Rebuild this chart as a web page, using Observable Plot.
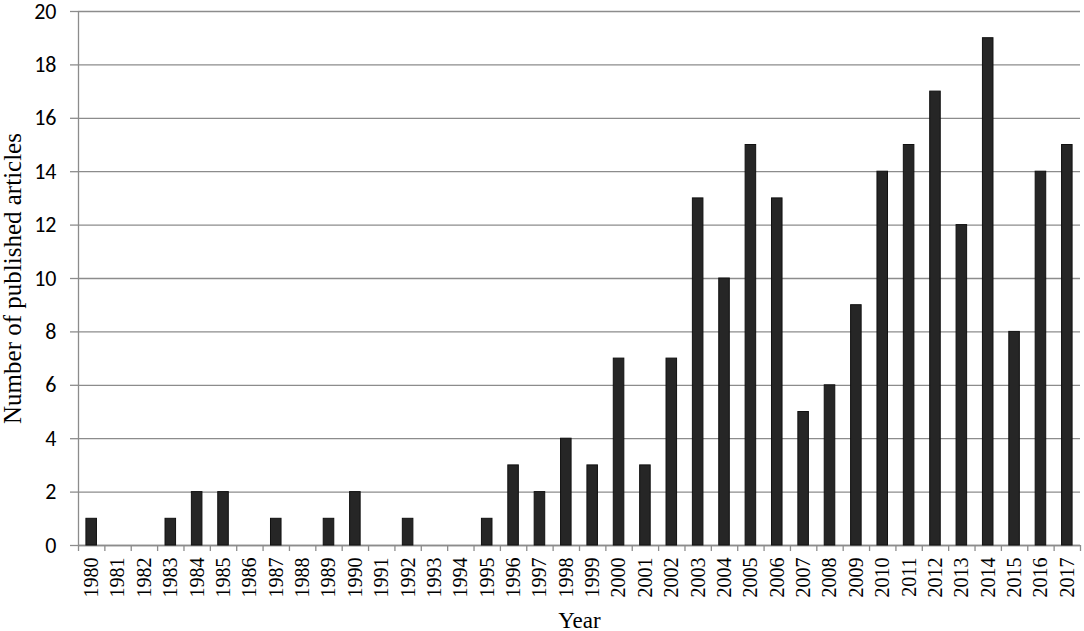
<!DOCTYPE html>
<html>
<head>
<meta charset="utf-8">
<script src="https://cdn.jsdelivr.net/npm/d3@7"></script>
<script src="https://cdn.jsdelivr.net/npm/@observablehq/plot@0.6"></script>
<style>
  html, body { margin: 0; padding: 0; background: #fff; }
  #chart svg { display: block; }
</style>
</head>
<body>
<div id="chart"></div>
<script>
const years = [1980,1981,1982,1983,1984,1985,1986,1987,1988,1989,1990,1991,1992,1993,1994,1995,1996,1997,1998,1999,2000,2001,2002,2003,2004,2005,2006,2007,2008,2009,2010,2011,2012,2013,2014,2015,2016,2017];
const counts = [1,0,0,1,2,2,0,1,0,1,2,0,1,0,0,1,3,2,4,3,7,3,7,13,10,15,13,5,6,9,14,15,17,12,19,8,14,15];
const yTicks = [0,2,4,6,8,10,12,14,16,18,20];
const xTitle = "Year";
const yTitle = "Number of published articles";

const data = years.map((y, i) => ({year: String(y), n: counts[i]}));

const W = 1084, H = 631;
const mL = 78, mR = 4, mT = 11, mB = 86;
const step = (W - mL - mR) / years.length;
const serif = "'Liberation Serif', 'Times New Roman', serif";
const sans = "Carlito, Calibri, 'Open Sans', 'Liberation Sans', sans-serif";
const gridColor = "#8c8c8c";

const chart = Plot.plot({
  width: W,
  height: H,
  marginLeft: mL,
  marginRight: mR,
  marginTop: mT,
  marginBottom: mB,
  style: {background: "#fff", color: "#000", overflow: "visible"},
  x: {type: "band", domain: years.map(String), paddingInner: 0.6, paddingOuter: 0.3, align: 0.5, round: false},
  y: {domain: [0, 20]},
  marks: [
    Plot.gridY(yTicks, {stroke: gridColor, strokeOpacity: 1, strokeWidth: 1.3}),
    Plot.axisY(yTicks, {tickSize: 8, tickPadding: 14, stroke: gridColor, strokeWidth: 1.3,
      fontSize: 22, fontFamily: sans, fill: "#000", label: null}),
    Plot.ruleX([years[0]].map(String), {x: d => d, dx: -step / 2, y1: 0, y2: 20, stroke: gridColor, strokeWidth: 1.3}),
    Plot.ruleY([0], {stroke: gridColor, strokeWidth: 1.3}),
    Plot.axisX(years.map(String), {tickSize: 6, text: null, dx: -step / 2, stroke: gridColor, strokeWidth: 1.3, label: null}),
    Plot.axisX([years[years.length - 1]].map(String), {tickSize: 6, text: null, dx: step / 2, stroke: gridColor, strokeWidth: 1.3, label: null}),
    Plot.axisX(years.map(String), {tickSize: 0, tickPadding: 12, tickRotate: -90, fontSize: 20,
      fontFamily: serif, fill: "#000", label: null}),
    Plot.barY(data, {x: "year", y: "n", fill: "#262626", stroke: "#111", strokeWidth: 1}),
    Plot.text([xTitle], {frameAnchor: "bottom", dy: 82, fontSize: 23, fontFamily: serif, fill: "#000", text: d => d}),
    Plot.text([yTitle], {frameAnchor: "left", textAnchor: "middle", dx: -66, rotate: -90, fontSize: 25, fontFamily: serif, fill: "#000", text: d => d})
  ]
});
document.getElementById("chart").append(chart);
</script>
</body>
</html>
